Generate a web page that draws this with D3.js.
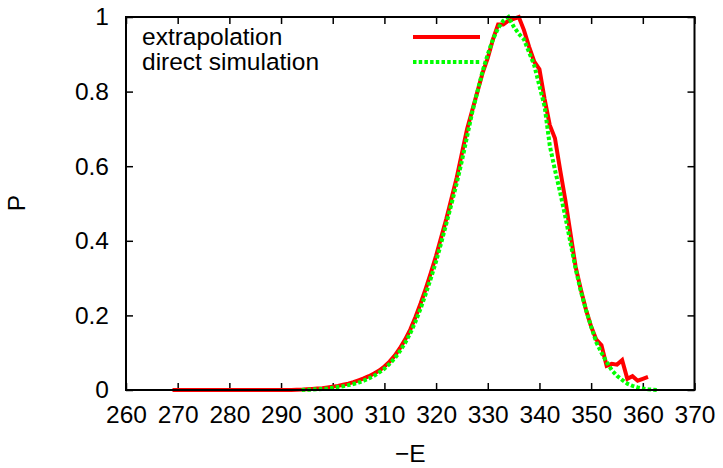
<!DOCTYPE html>
<html>
<head>
<meta charset="utf-8">
<script src="https://cdn.jsdelivr.net/npm/d3@7"></script>
<style>
  body { margin: 0; background: #fff; }
  svg text { font-family: "Liberation Sans", Arial, sans-serif; }
</style>
</head>
<body>
<div class="chart"></div>
<script>
// extrapolation curve (red, solid)
const extrapE = [269,270,271,272,273,274,275,276,277,278,279,280,281,282,283,284,285,286,287,288,289,290,291,292,293,
  294,295,296,297,298,299,300,301,302,303,304,305,306,307,308,309,310,311,312,313,314,315,316,317,318,319,320,
  321,322,323,324,325,326,327,328,329,330,331,332,333,334,335,336,337,338,339,340,341,342,343,344,345,346,347,
  348,349,350,351,352,353,354,355,356,357,358,359,360,361];
const extrapP = [0,0,0,0,0,0,0,0,0,0,0,0,0,0,0,0,0,0,0,0,0,0,0,0,0.0005,
  0.001,0.002,0.003,0.004,0.005,0.007,0.009,0.011,0.014,0.017,0.021,0.026,0.031,0.037,0.044,0.052,0.063,0.076,0.092,0.112,0.135,0.162,0.195,0.232,0.272,0.315,0.36,
  0.41,0.46,0.515,0.57,0.635,0.70,0.75,0.80,0.85,0.89,0.94,0.98,0.98,0.99,0.995,1.0,0.965,0.92,0.88,0.86,0.78,0.71,0.675,0.59,0.51,0.42,0.33,
  0.27,0.215,0.17,0.135,0.12,0.065,0.07,0.068,0.08,0.03,0.037,0.025,0.03,0.035];

// direct simulation curve (green, dotted)
const simE = [294,295,296,297,298,299,300,301,302,303,304,305,306,307,308,309,310,311,312,313,314,315,316,317,318,319,320,
  321,322,323,324,325,326,327,328,329,330,331,332,333,334,335,336,337,338,339,340,341,342,343,344,345,346,347,
  348,349,350,351,352,353,354,355,356,357,358,359,360,361,362,363];
const simP = [0,0.001,0.001,0.002,0.003,0.004,0.006,0.008,0.01,0.013,0.016,0.02,0.025,0.031,0.038,0.047,0.057,0.07,0.085,0.104,0.126,0.152,0.183,0.218,0.258,0.30,0.345,
  0.395,0.447,0.50,0.555,0.615,0.68,0.745,0.80,0.855,0.90,0.94,0.97,0.99,1.0,0.975,0.955,0.94,0.905,0.87,0.815,0.76,0.655,0.59,0.53,0.465,0.395,0.325,
  0.265,0.215,0.17,0.128,0.1,0.075,0.053,0.038,0.027,0.017,0.011,0.007,0.004,0.002,0.001,0];

const xTicks = [260,270,280,290,300,310,320,330,340,350,360,370];
const yTicks = [0,0.2,0.4,0.6,0.8,1];
const legendLabels = ["extrapolation", "direct simulation"];

const chartW = 723, chartH = 468;
const padL = 126, padR = 694.5, padT = 17, padB = 390;

const x = d3.scaleLinear().domain([260, 370]).range([padL, padR]);
const y = d3.scaleLinear().domain([0, 1]).range([padB, padT]);

const svg = d3.select(".chart").append("svg")
    .attr("width", chartW)
    .attr("height", chartH);

const fontSize = 24.5;

// ticks, mirrored inside on all four sides
let bottomAxis = d3.axisBottom(x).tickValues(xTicks).tickSizeInner(-7).tickSizeOuter(0).tickPadding(16).tickFormat(d3.format("d"));
let topAxis = d3.axisTop(x).tickValues(xTicks).tickSizeInner(-7).tickSizeOuter(0).tickFormat("");
let leftAxis = d3.axisLeft(y).tickValues(yTicks).tickSizeInner(-7).tickSizeOuter(0).tickPadding(17).tickFormat(d3.format("~g"));
let rightAxis = d3.axisRight(y).tickValues(yTicks).tickSizeInner(-7).tickSizeOuter(0).tickFormat("");

function style(g) {
    g.select(".domain").remove();
    g.selectAll(".tick line").attr("stroke", "#000").attr("stroke-width", 1.5);
    g.selectAll(".tick text").attr("fill", "#000").style("font-size", fontSize + "px");
}

svg.append("g").attr("transform", `translate(0,${padB})`).call(bottomAxis).call(style);
svg.append("g").attr("transform", `translate(0,${padT})`).call(topAxis).call(style);
svg.append("g").attr("transform", `translate(${padL},0)`).call(leftAxis).call(style);
svg.append("g").attr("transform", `translate(${padR},0)`).call(rightAxis).call(style);

// axis titles
svg.append("text")
    .attr("x", (padL + padR) / 2).attr("y", 462)
    .attr("text-anchor", "middle")
    .style("font-size", fontSize + "px")
    .text("\u2212E");
svg.append("text")
    .attr("transform", "translate(25,203) rotate(-90)")
    .attr("text-anchor", "middle")
    .style("font-size", fontSize + "px")
    .text("P");

// curves
const line = d3.line().x(d => x(d[0])).y(d => y(d[1]));

svg.append("path")
    .datum(extrapE.map((e, i) => [e, extrapP[i]]))
    .attr("d", line)
    .attr("fill", "none")
    .attr("stroke", "#ff0000")
    .attr("stroke-width", 4)
    .attr("stroke-linejoin", "miter");

svg.append("path")
    .datum(simE.map((e, i) => [e, simP[i]]))
    .attr("d", line)
    .attr("fill", "none")
    .attr("stroke", "#00ff00")
    .attr("stroke-width", 4)
    .attr("stroke-dasharray", "3.5,2.2");

// legend
const legendColors = ["#ff0000", "#00ff00"];
const legendDash = [null, "3.5,2.2"];
legendLabels.forEach(function (lab, i) {
    svg.append("text")
        .attr("x", 142).attr("y", 45 + i * 24.5)
        .style("font-size", fontSize + "px")
        .text(lab);
    svg.append("line")
        .attr("x1", 413).attr("x2", 480)
        .attr("y1", 37 + i * 25).attr("y2", 37 + i * 25)
        .attr("stroke", legendColors[i])
        .attr("stroke-width", 4)
        .attr("stroke-dasharray", legendDash[i]);
});

// frame
svg.append("rect")
    .attr("x", padL).attr("y", padT)
    .attr("width", padR - padL).attr("height", padB - padT)
    .attr("fill", "none")
    .attr("stroke", "#000")
    .attr("stroke-width", 2);
</script>
</body>
</html>
